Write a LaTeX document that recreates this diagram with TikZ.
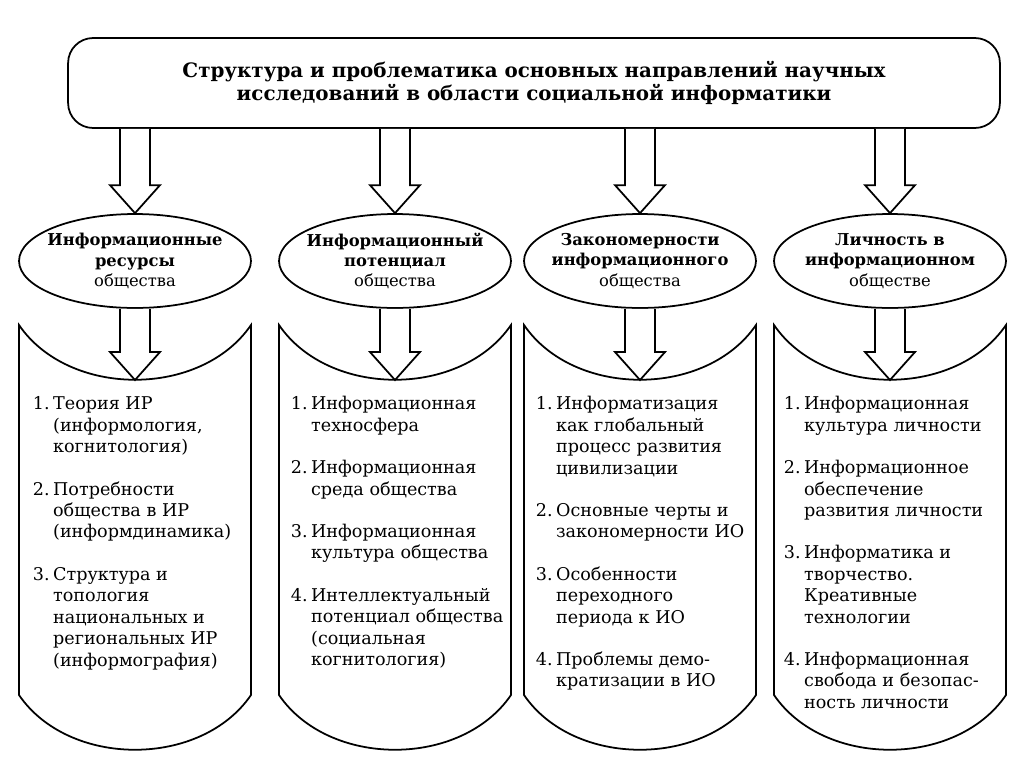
\documentclass[tikz,border=0pt]{standalone}
\usepackage{fontspec}
\setmainfont{DejaVu Serif}
\usetikzlibrary{shapes,arrows,positioning,calc}

\newcommand{\blockarrow}[2]{%
  \draw[line width=1pt, fill=white] let \p1=(#1), \p2=(#2) in
    (\x2-8.5pt,\y1) -- (\x2-8.5pt,\y2+15.9pt) -- (\x2-14.2pt,\y2+15.9pt) -- (\x2,\y2)
    -- (\x2+14.2pt,\y2+15.9pt) -- (\x2+8.5pt,\y2+15.9pt) -- (\x2+8.5pt,\y1);}

\begin{document}
\begin{tikzpicture}[x=0.02cm, y=-0.02cm, line width=1pt,
  every node/.style={font=\fontsize{10}{12.2}\selectfont},
  ell/.style={draw, ellipse, minimum width=4.64cm, minimum height=1.88cm, inner sep=0pt},
  elltext/.style={align=center, font=\fontsize{9.3}{11.6}\selectfont},
  items/.style={anchor=north west, inner sep=0pt}]
\useasboundingbox (0,0) rectangle (1024,768);

\node[draw, rounded corners=0.5cm, minimum width=18.64cm, minimum height=1.8cm, align=center, font=\bfseries\fontsize{11.3}{13.6}\selectfont] (top) at (534,83) {Структура и проблематика основных направлений научных\\исследований в области социальной информатики};

\foreach \c/\i in {135/1,395/2,640/3,890/4}{
  \draw (\c-116,325) .. controls (\c-66,398) and (\c+66,398) .. (\c+116,325) -- (\c+116,695)
    .. controls (\c+66,768) and (\c-66,768) .. (\c-116,695) -- cycle;
  \coordinate (b\i) at (\c,380);
}

\node[ell] (e1) at (135,261) {};
\node[ell] (e2) at (395,261) {};
\node[ell] (e3) at (640,261) {};
\node[ell] (e4) at (890,261) {};
\node[elltext] (t1) at (e1) {\textbf{Информационные}\\\textbf{ресурсы}\\общества};
\node[elltext] (t2) at (e2) {\textbf{Информационный}\\\textbf{потенциал}\\общества};
\node[elltext] (t3) at (e3) {\textbf{Закономерности}\\\textbf{информационного}\\общества};
\node[elltext] (t4) at (e4) {\textbf{Личность в}\\\textbf{информационном}\\обществе};

\blockarrow{top.south -| e1.north}{e1.north}
\blockarrow{top.south -| e2.north}{e2.north}
\blockarrow{top.south -| e3.north}{e3.north}
\blockarrow{top.south -| e4.north}{e4.north}
\blockarrow{e1.south}{b1}
\blockarrow{e2.south}{b2}
\blockarrow{e3.south}{b3}
\blockarrow{e4.south}{b4}

\node[items] (l1) at (32,394) {\begin{tabular}{@{}l@{\hspace{2pt}}l@{}}
1. & Теория ИР\\
   & (информология,\\
   & когнитология)\\[11.9pt]
2. & Потребности\\
   & общества в ИР\\
   & (информдинамика)\\[11.9pt]
3. & Структура и\\
   & топология\\
   & национальных и\\
   & региональных ИР\\
   & (информография)
\end{tabular}};
\node[items] (l2) at (290,394) {\begin{tabular}{@{}l@{\hspace{2pt}}l@{}}
1. & Информационная\\
   & техносфера\\[11.9pt]
2. & Информационная\\
   & среда общества\\[11.9pt]
3. & Информационная\\
   & культура общества\\[11.9pt]
4. & Интеллектуальный\\
   & потенциал общества\\
   & (социальная\\
   & когнитология)
\end{tabular}};
\node[items] (l3) at (535,394) {\begin{tabular}{@{}l@{\hspace{2pt}}l@{}}
1. & Информатизация\\
   & как глобальный\\
   & процесс развития\\
   & цивилизации\\[11.9pt]
2. & Основные черты и\\
   & закономерности ИО\\[11.9pt]
3. & Особенности\\
   & переходного\\
   & периода к ИО\\[11.9pt]
4. & Проблемы демо-\\
   & кратизации в ИО
\end{tabular}};
\node[items] (l4) at (783,394) {\begin{tabular}{@{}l@{\hspace{2pt}}l@{}}
1. & Информационная\\
   & культура личности\\[11.9pt]
2. & Информационное\\
   & обеспечение\\
   & развития личности\\[11.9pt]
3. & Информатика и\\
   & творчество.\\
   & Креативные\\
   & технологии\\[11.9pt]
4. & Информационная\\
   & свобода и безопас-\\
   & ность личности
\end{tabular}};
\end{tikzpicture}
\end{document}
